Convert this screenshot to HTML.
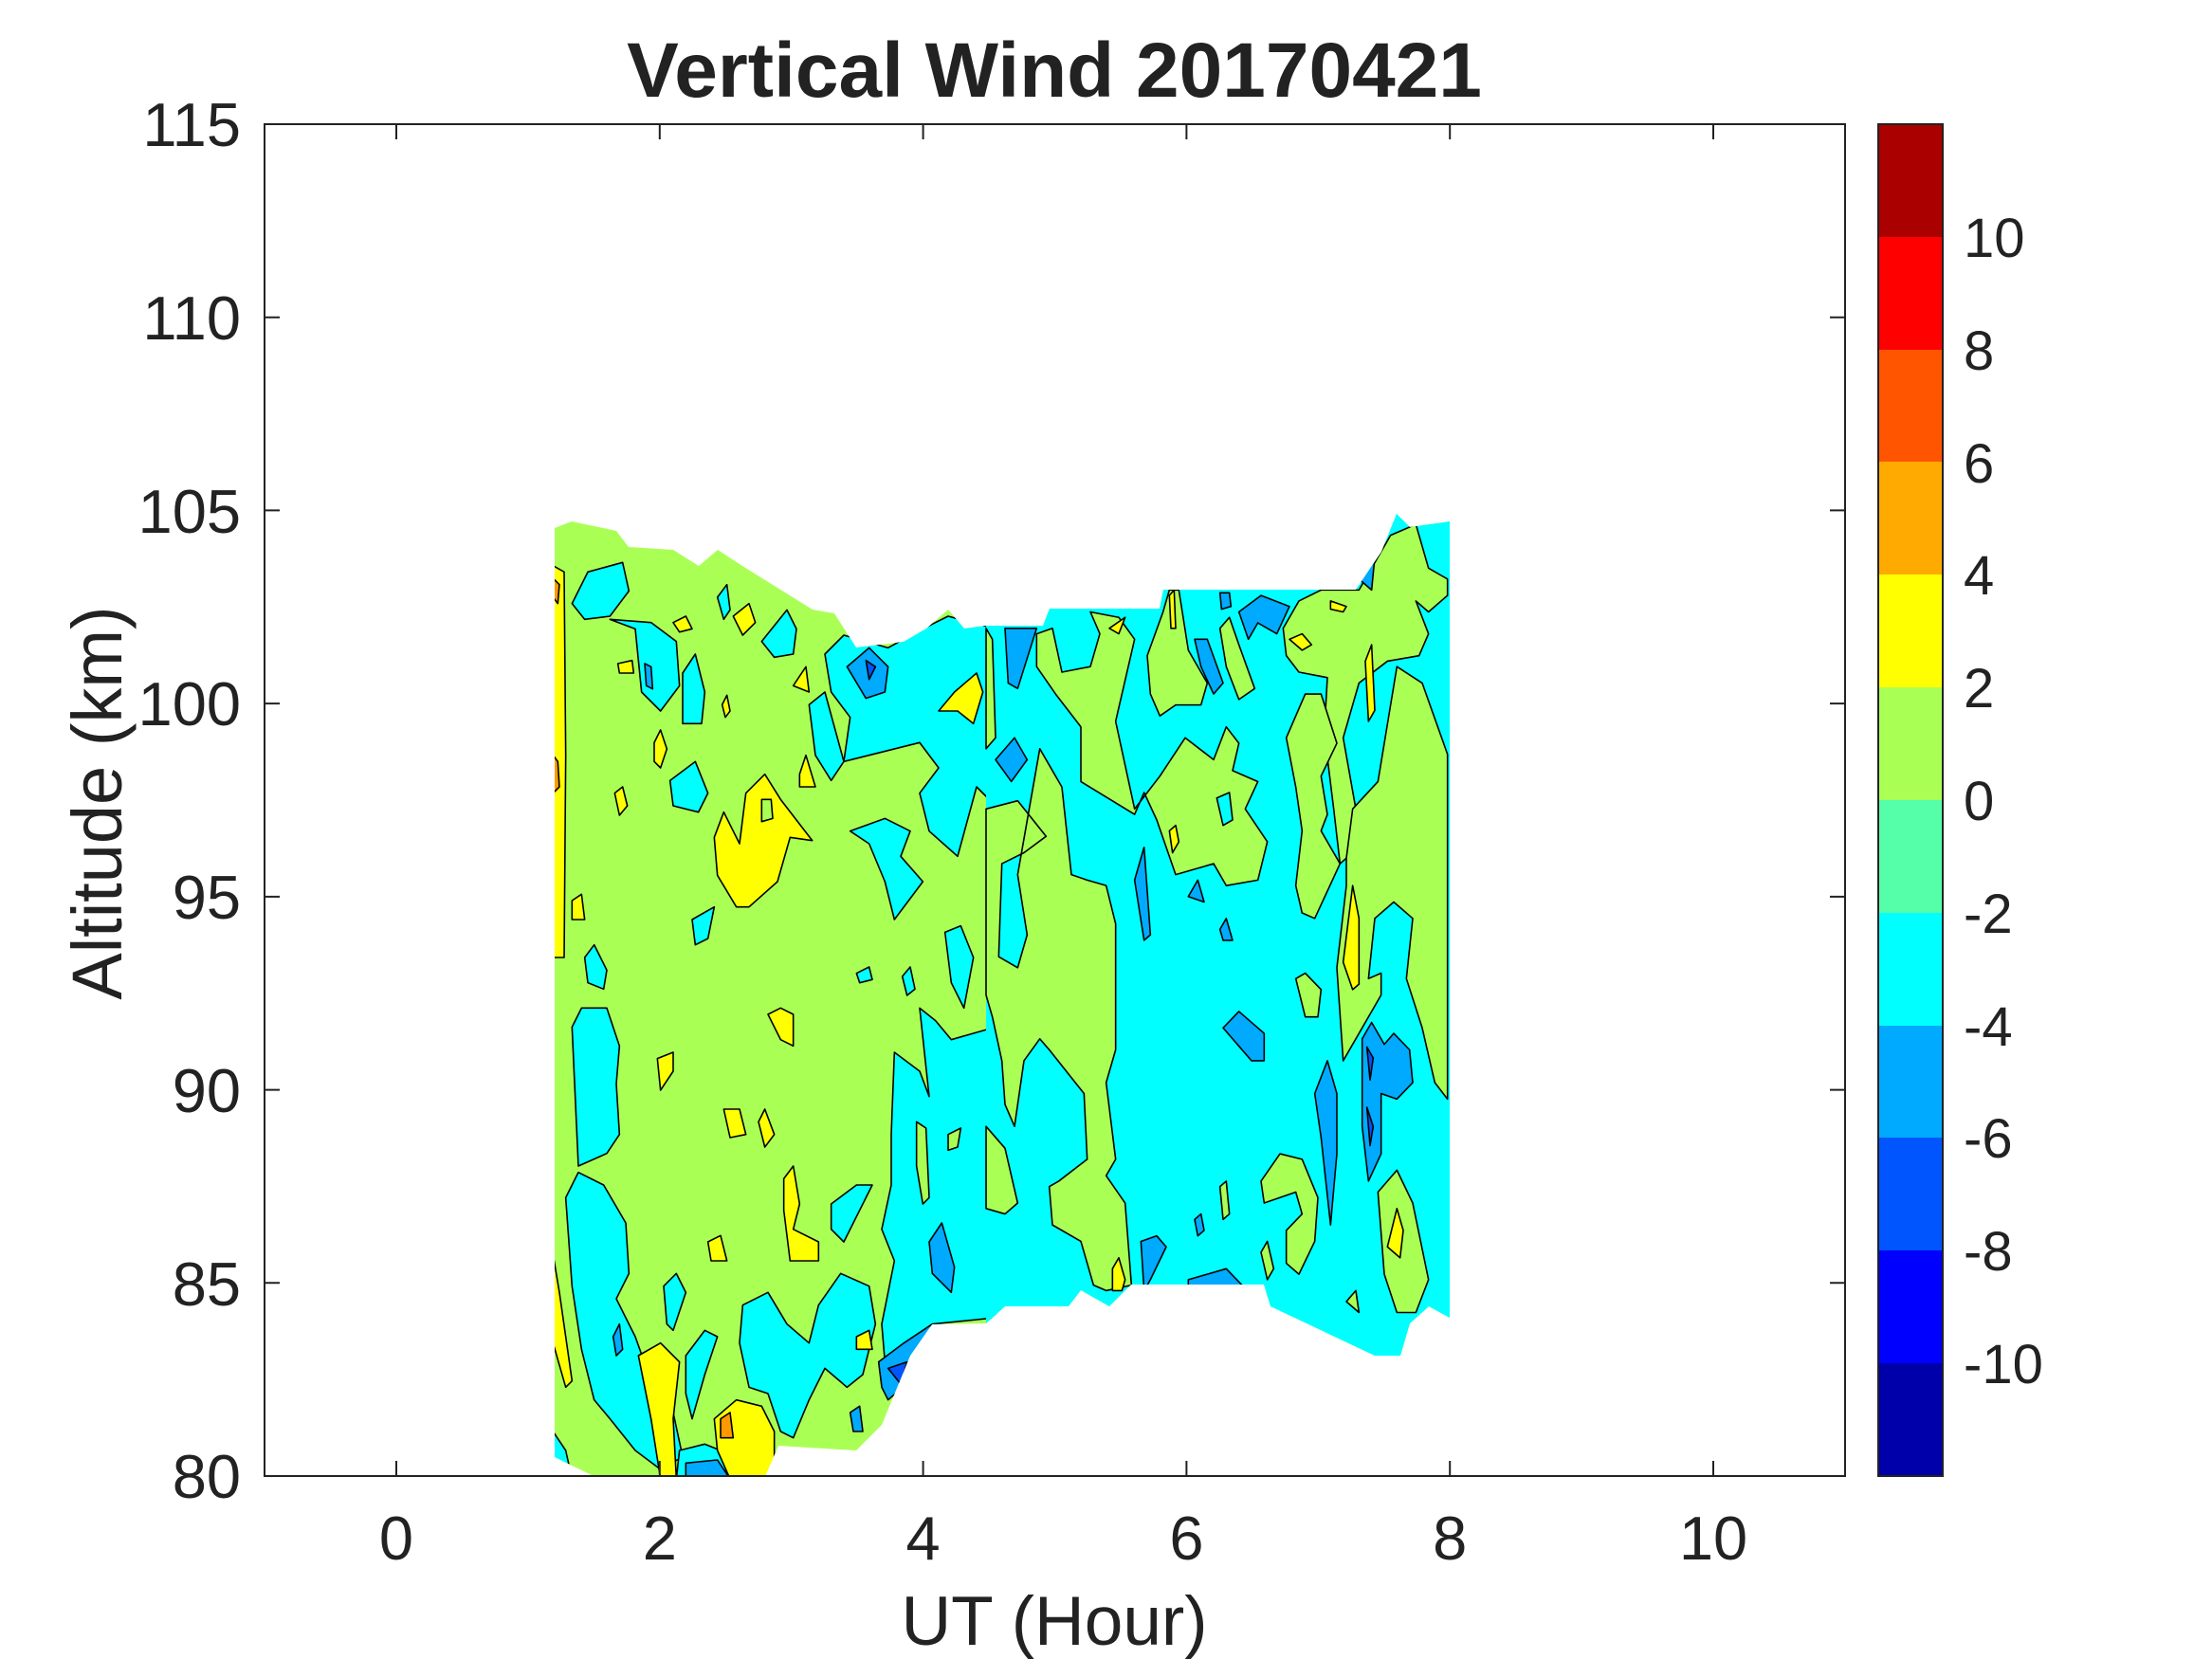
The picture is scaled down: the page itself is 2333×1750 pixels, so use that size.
<!DOCTYPE html>
<html><head><style>body{margin:0;background:#fff}svg{display:block}text{font-family:"Liberation Sans",Arial,sans-serif;fill:#222}
.p polygon{vector-effect:non-scaling-stroke;stroke:#000;stroke-width:1.6;stroke-linejoin:round}
.c{fill:#00ffff}.g{fill:#aaff55}.y{fill:#ffff00}.b{fill:#00aaff}.d{fill:#0055ff}.o{fill:#ff9900}</style></head>
<body>
<svg width="2333" height="1750" viewBox="0 0 2333 1750">
<defs><clipPath id="dc"><polygon points="585,557 603,550 650,560 663,577 710,580 737,597 757,580 783,597 857,643 880,647 903,683 953,677 977,663 1000,643 1017,663 1040,660 1100,660 1107,642 1223,642 1227,622 1430,622 1457,582 1473,542 1487,556 1529,550 1529,1390 1507,1378 1487,1396 1477,1430 1450,1430 1340,1378 1333,1355 1193,1355 1170,1378 1140,1361 1127,1378 1060,1378 1040,1396 983,1397 960,1430 930,1503 903,1530 821,1525 807,1557 626,1557 585,1537"/></clipPath></defs>
<rect width="2333" height="1750" fill="#fff"/>
<g clip-path="url(#dc)" class="p">
<rect x="570" y="530" width="970" height="1040" fill="#aaff55"/>
<g transform="translate(570,530) scale(0.33333,0.66667)">
<polygon class="c" points="100,160 150,110 260,95 280,140 220,180 140,185"/>
<polygon class="c" points="220,185 300,200 320,300 380,330 440,290 430,220 350,190"/>
<polygon class="c" points="450,270 490,240 520,300 510,350 450,350"/>
<polygon class="c" points="700,220 780,170 810,200 800,240 740,245"/>
<polygon class="c" points="560,150 590,130 600,170 580,185"/>
<polygon class="c" points="900,240 960,210 1100,230 1210,200 1290,180 1440,200 1440,480 1380,450 1320,560 1230,520 1200,460 1260,420 1200,380 960,410 980,340 920,300"/>
<polygon class="c" points="850,320 900,300 960,410 920,440 870,400"/>
<polygon class="c" points="410,440 490,410 530,460 500,490 420,480"/>
<polygon class="c" points="980,520 1090,500 1170,520 1140,560 1210,600 1120,660 1090,600 1040,540"/>
<polygon class="c" points="480,660 550,640 530,690 490,700"/>
<polygon class="c" points="140,720 170,700 210,740 200,770 150,760"/>
<polygon class="c" points="100,830 130,800 210,800 250,860 240,920 250,1000 210,1030 120,1050"/>
<polygon class="c" points="80,1100 120,1060 200,1080 270,1140 280,1220 240,1260 300,1320 350,1390 420,1440 450,1510 380,1530 300,1500 220,1450 170,1420 130,1340 100,1240"/>
<polygon class="c" points="640,1270 720,1250 780,1300 850,1330 880,1270 950,1220 1040,1240 1060,1300 1020,1380 970,1400 900,1370 850,1420 800,1480 760,1470 720,1410 660,1400 630,1330"/>
<polygon class="c" points="1120,870 1200,900 1230,940 1200,800 1250,820 1300,850 1440,830 1440,1290 1240,1300 1170,1330 1090,1360 1080,1300 1120,1200 1080,1150 1110,1080 1110,1000"/>
<polygon class="g" points="1190,980 1220,990 1230,1100 1210,1110 1190,1050"/>
<polygon class="g" points="1290,1000 1330,990 1320,1020 1290,1025"/>
<polygon class="c" points="920,1110 1000,1080 1050,1080 960,1170 920,1150"/>
<polygon class="c" points="390,1240 430,1220 460,1250 420,1310 400,1300"/>
<polygon class="c" points="460,1350 520,1310 560,1320 520,1380 480,1450 460,1410"/>
<polygon class="c" points="40,1470 80,1500 100,1545 40,1545"/>
<polygon class="c" points="440,1500 520,1490 620,1510 650,1545 430,1545"/>
<polygon class="c" points="1280,680 1330,670 1370,720 1340,800 1300,760"/>
<polygon class="c" points="1145,750 1170,735 1185,770 1160,780"/>
<polygon class="c" points="1000,745 1040,735 1050,755 1010,760"/>
<polygon class="b" points="970,260 1040,230 1100,260 1090,300 1030,310"/>
<polygon class="d" points="1030,250 1060,260 1040,280"/>
<polygon class="b" points="1230,1170 1270,1140 1310,1210 1300,1250 1240,1220"/>
<polygon class="b" points="1070,1360 1150,1330 1240,1300 1170,1390 1100,1420 1080,1400"/>
<polygon class="d" points="1100,1370 1160,1360 1140,1395"/>
<polygon class="b" points="230,1320 250,1300 260,1340 240,1350"/>
<polygon class="b" points="980,1440 1010,1430 1020,1470 990,1470"/>
<polygon class="b" points="330,255 350,260 355,295 335,290"/>
<polygon class="b" points="460,1520 560,1515 600,1545 460,1545"/>
<polygon class="y" points="40,100 75,110 80,400 75,720 40,720"/>
<polygon class="o" points="40,120 60,130 55,160 40,150"/>
<polygon class="o" points="40,400 55,410 60,450 40,460"/>
<polygon class="y" points="40,1190 60,1250 100,1390 80,1400 40,1330"/>
<polygon class="y" points="550,530 580,490 630,540 650,460 710,430 760,470 860,535 790,530 750,600 660,640 620,640 560,590"/>
<polygon class="g" points="700,470 730,470 735,500 700,505"/>
<polygon class="y" points="720,810 760,800 800,810 800,860 760,850"/>
<polygon class="y" points="770,1070 800,1050 820,1110 800,1150 880,1170 880,1200 790,1200 770,1120"/>
<polygon class="y" points="580,960 630,960 650,1000 600,1005"/>
<polygon class="y" points="690,980 710,960 740,1000 710,1020"/>
<polygon class="y" points="360,380 380,360 400,390 380,420 360,410"/>
<polygon class="y" points="610,180 660,160 680,190 640,210"/>
<polygon class="y" points="310,1350 380,1330 440,1360 420,1450 430,1545 380,1545 350,1450"/>
<polygon class="y" points="550,1450 620,1420 700,1430 740,1470 740,1545 600,1545 560,1500"/>
<polygon class="o" points="570,1450 600,1440 610,1480 570,1480"/>
<polygon class="y" points="1260,330 1310,300 1380,270 1400,300 1370,350 1320,330"/>
<polygon class="y" points="530,1170 570,1160 590,1200 540,1200"/>
<polygon class="y" points="370,880 420,870 420,900 380,930"/>
<polygon class="y" points="100,630 130,620 140,660 100,660"/>
<polygon class="y" points="235,460 260,450 275,480 250,495"/>
<polygon class="y" points="1000,1320 1040,1310 1050,1340 1000,1340"/>
<polygon class="y" points="820,430 840,400 870,450 820,450"/>
<polygon class="y" points="800,290 840,260 850,300"/>
<polygon class="y" points="420,190 460,180 480,200 440,205"/>
<polygon class="y" points="245,255 290,250 295,270 250,270"/>
<polygon class="y" points="575,320 590,305 600,330 585,340"/>
</g>
<rect x="1040" y="530" width="500" height="900" fill="#00ffff"/>
<g transform="translate(1040,530) scale(0.33333,0.57737)">
<polygon class="g" points="0,560 100,545 190,610 120,640 50,660 40,830 100,850 130,790 100,680 170,450 240,520 270,680 320,690 380,700 410,770 410,1000 380,1060 410,1200 380,1230 440,1280 460,1430 380,1440 340,1430 300,1350 210,1320 200,1250 230,1240 320,1200 310,1080 200,1000 170,980 120,1020 90,1140 60,1100 50,1020 20,940 0,900"/>
<polygon class="g" points="0,1140 60,1180 100,1280 60,1300 0,1290"/>
<polygon class="g" points="0,230 20,250 30,430 0,450"/>
<polygon class="g" points="160,240 210,230 240,310 330,300 360,240 330,200 420,210 470,250 410,400 470,560 550,500 630,430 720,470 760,410 800,440 780,490 860,510 820,560 890,620 860,690 760,700 720,660 600,680 540,580 500,530 470,570 300,510 300,410 220,350 160,300"/>
<polygon class="c" points="730,540 770,530 780,580 750,590"/>
<polygon class="g" points="510,280 560,200 580,160 610,160 640,270 700,330 680,370 600,370 550,390 520,350"/>
<polygon class="g" points="740,230 770,210 800,260 850,340 800,360 760,300"/>
<polygon class="g" points="940,230 990,180 1060,160 1180,160 1280,60 1360,40 1400,120 1460,140 1460,170 1400,200 1360,180 1400,240 1370,280 1270,290 1180,330 1130,430 1170,560 1140,650 1120,660 1100,560 1070,420 1080,320 990,310 950,280"/>
<polygon class="g" points="950,430 1010,350 1060,350 1110,440 1060,500 1080,570 1060,600 1120,660 1040,760 1000,750 980,700 1000,600 980,520"/>
<polygon class="g" points="1140,650 1160,560 1240,510 1300,300 1380,330 1460,460 1460,1090 1420,1060 1380,960 1330,870 1350,760 1290,730 1230,760 1210,870 1250,860 1250,900 1200,950 1130,1020 1110,850 1140,700"/>
<polygon class="g" points="870,1240 930,1190 1000,1200 1050,1270 1040,1350 990,1410 950,1390 950,1330 1000,1300 980,1260 880,1280"/>
<polygon class="g" points="1240,1260 1300,1220 1350,1280 1400,1420 1360,1480 1300,1480 1260,1410"/>
<polygon class="g" points="980,870 1010,860 1060,890 1050,940 1010,940"/>
<polygon class="g" points="740,1250 760,1240 770,1300 750,1310"/>
<polygon class="g" points="870,1370 890,1350 910,1400 890,1420"/>
<polygon class="g" points="1140,1460 1170,1440 1180,1480"/>
<polygon class="b" points="30,470 90,430 130,470 80,510"/>
<polygon class="b" points="60,230 160,230 100,340 70,330"/>
<polygon class="b" points="470,690 500,630 520,790 500,800"/>
<polygon class="b" points="640,720 670,690 690,730"/>
<polygon class="b" points="740,780 760,760 780,800 750,800"/>
<polygon class="b" points="750,960 800,930 880,970 880,1020 840,1020"/>
<polygon class="b" points="660,250 700,250 750,330 720,350 680,300"/>
<polygon class="b" points="800,200 870,170 960,190 920,240 860,220 830,250"/>
<polygon class="b" points="740,165 770,165 775,190 745,195"/>
<polygon class="b" points="1040,1080 1080,1020 1110,1080 1110,1190 1090,1320 1060,1160"/>
<polygon class="b" points="1190,980 1220,950 1260,990 1290,970 1340,1000 1350,1060 1300,1090 1250,1080 1250,1190 1210,1240 1190,1140"/>
<polygon class="d" points="1205,995 1225,1015 1215,1055"/>
<polygon class="d" points="1205,1105 1225,1140 1215,1175"/>
<polygon class="b" points="490,1350 540,1340 570,1360 520,1420 500,1440"/>
<polygon class="b" points="640,1420 760,1400 860,1460 640,1440"/>
<polygon class="b" points="660,1310 680,1300 690,1330 670,1340"/>
<polygon class="b" points="1180,140 1230,100 1220,160"/>
<polygon class="y" points="580,600 600,590 610,620 590,640"/>
<polygon class="y" points="960,250 1000,240 1030,260 1000,270"/>
<polygon class="y" points="1200,290 1220,260 1230,380 1210,400"/>
<polygon class="y" points="1130,840 1160,700 1180,760 1180,880 1160,890"/>
<polygon class="y" points="1270,1360 1300,1290 1320,1330 1310,1380"/>
<polygon class="y" points="400,1400 420,1380 440,1420 430,1440 400,1440"/>
<polygon class="y" points="1090,180 1140,190 1130,200 1090,195"/>
<polygon class="y" points="580,170 595,160 600,230 585,230"/>
<polygon class="y" points="390,230 440,210 420,240"/>
</g>
</g>
<rect x="279" y="131" width="1667" height="1426" fill="none" stroke="#222" stroke-width="2"/>
<g stroke="#222" stroke-width="2">
<path d="M418 1557v-16M418 131v16M695.8 1557v-16M695.8 131v16M973.6 1557v-16M973.6 131v16M1251.4 1557v-16M1251.4 131v16M1529.2 1557v-16M1529.2 131v16M1807 1557v-16M1807 131v16"/>
<path d="M279 1353.3h16M1946 1353.3h-16M279 1149.6h16M1946 1149.6h-16M279 945.9h16M1946 945.9h-16M279 742.1h16M1946 742.1h-16M279 538.4h16M1946 538.4h-16M279 334.7h16M1946 334.7h-16"/>
</g>
<g font-size="65" text-anchor="end">
<text x="254" y="1580">80</text><text x="254" y="1377">85</text><text x="254" y="1173">90</text><text x="254" y="969">95</text><text x="254" y="765">100</text><text x="254" y="562">105</text><text x="254" y="358">110</text><text x="254" y="154">115</text>
</g>
<g font-size="65" text-anchor="middle">
<text x="418" y="1645">0</text><text x="695.8" y="1645">2</text><text x="973.6" y="1645">4</text><text x="1251.4" y="1645">6</text><text x="1529.2" y="1645">8</text><text x="1807" y="1645">10</text>
<text x="1112" y="1735" font-size="73">UT (Hour)</text>
<text x="1112" y="102" font-size="82" font-weight="bold" fill="#000">Vertical Wind 20170421</text>
</g>
<text transform="translate(128,847) rotate(-90)" font-size="74" text-anchor="middle">Altitude (km)</text>
<g>
<rect x="1981" y="131" width="68" height="119" fill="#aa0000"/>
<rect x="1981" y="250" width="68" height="119" fill="#ff0000"/>
<rect x="1981" y="369" width="68" height="119" fill="#ff5500"/>
<rect x="1981" y="487" width="68" height="119" fill="#ffaa00"/>
<rect x="1981" y="606" width="68" height="119" fill="#ffff00"/>
<rect x="1981" y="725" width="68" height="119" fill="#aaff55"/>
<rect x="1981" y="844" width="68" height="119" fill="#55ffaa"/>
<rect x="1981" y="963" width="68" height="119" fill="#00ffff"/>
<rect x="1981" y="1082" width="68" height="119" fill="#00aaff"/>
<rect x="1981" y="1200" width="68" height="119" fill="#0055ff"/>
<rect x="1981" y="1319" width="68" height="119" fill="#0000ff"/>
<rect x="1981" y="1438" width="68" height="119" fill="#0000aa"/>
<rect x="1981" y="131" width="68" height="1426" fill="none" stroke="#222" stroke-width="2"/>
</g>
<g font-size="58">
<text x="2071" y="271">10</text><text x="2071" y="390">8</text><text x="2071" y="509">6</text><text x="2071" y="627">4</text><text x="2071" y="746">2</text><text x="2071" y="865">0</text><text x="2071" y="984">-2</text><text x="2071" y="1103">-4</text><text x="2071" y="1221">-6</text><text x="2071" y="1340">-8</text><text x="2071" y="1459">-10</text>
</g>
</svg>
</body></html>
